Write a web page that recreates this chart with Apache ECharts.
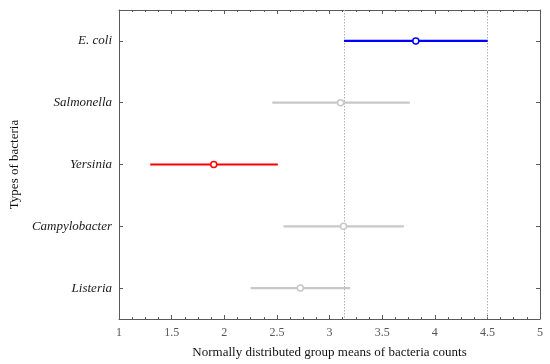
<!DOCTYPE html>
<html>
<head>
<meta charset="utf-8">
<script src="https://cdn.jsdelivr.net/npm/echarts@6/dist/echarts.min.js"></script>
<style>html,body{margin:0;padding:0;background:#fff}#c{width:550px;height:364px}</style>
</head>
<body>
<div id="c"></div>
<script>
var categories = ['E. coli', 'Salmonella', 'Yersinia', 'Campylobacter', 'Listeria'];
var lowBound = [3.137, 2.456, 1.296, 2.562, 2.250];
var groupMean = [3.820, 3.105, 1.900, 3.133, 2.723];
var highBound = [4.503, 3.763, 2.509, 3.707, 3.196];
var colors = ['#0000ff', '#c8c8c8', '#ff0000', '#c8c8c8', '#c8c8c8'];
var xTicks = ['1', '1.5', '2', '2.5', '3', '3.5', '4', '4.5', '5'];

var chart = echarts.init(document.getElementById('c'), null, {renderer: 'canvas'});
var font = '"Liberation Serif", "Times New Roman", serif';
var axisColor = '#5a5a5a';

var series = [];
categories.forEach(function (cat, i) {
  var s = {
    type: 'line',
    xAxisIndex: 0, yAxisIndex: 0,
    data: [[lowBound[i], cat], [highBound[i], cat]],
    symbol: 'none',
    lineStyle: {color: colors[i], width: 2.2},
    silent: true,
    z: 3
  };
  if (i === 0) {
    s.markLine = {
      silent: true,
      symbol: ['none', 'none'],
      label: {show: false},
      lineStyle: {color: '#b0b0b0', type: [1.5, 1.5], width: 1},
      data: [{xAxis: lowBound[i]}, {xAxis: highBound[i]}],
      z: 1
    };
  }
  series.push(s);
  series.push({
    type: 'scatter',
    xAxisIndex: 0, yAxisIndex: 0,
    data: [[groupMean[i], cat]],
    symbol: 'circle',
    symbolSize: 6,
    itemStyle: {color: '#ffffff', borderColor: colors[i], borderWidth: 1.5, opacity: 1},
    silent: true,
    z: 4
  });
});

chart.setOption({
  animation: false,
  grid: {left: 117, right: 10, top: 10, bottom: 43, containLabel: false},
  xAxis: [{
    type: 'value', min: 1, max: 5, interval: 0.5, position: 'bottom',
    name: 'Normally distributed group means of bacteria counts',
    nameLocation: 'middle', nameGap: 27,
    nameTextStyle: {fontFamily: font, fontSize: 13, color: '#111'},
    axisLine: {show: true, lineStyle: {color: axisColor, width: 1}},
    axisTick: {show: true, inside: true, length: 4, lineStyle: {color: axisColor}},
    minorTick: {show: true, splitNumber: 4, length: 2, lineStyle: {color: axisColor}},
    axisLabel: {fontFamily: font, fontSize: 12, color: '#555', margin: 8,
      formatter: function (v) { var idx = Math.round((v - 1) / 0.5); return xTicks[idx] || ''; }},
    splitLine: {show: false}
  }, {
    type: 'value', min: 1, max: 5, interval: 0.5, position: 'top',
    axisLine: {show: true, lineStyle: {color: axisColor, width: 1}},
    axisTick: {show: true, inside: true, length: 4, lineStyle: {color: axisColor}},
    minorTick: {show: true, splitNumber: 4, length: 2, lineStyle: {color: axisColor}},
    axisLabel: {show: false},
    splitLine: {show: false}
  }],
  yAxis: [{
    type: 'category', data: categories, inverse: true, position: 'left',
    name: 'Types of bacteria', nameLocation: 'middle', nameGap: 98, nameRotate: 90,
    nameTextStyle: {fontFamily: font, fontSize: 13, color: '#111'},
    axisLine: {show: true, lineStyle: {color: axisColor, width: 1}},
    axisTick: {show: true, inside: true, length: 4, alignWithLabel: true, lineStyle: {color: axisColor}},
    axisLabel: {fontFamily: font, fontSize: 13, fontStyle: 'italic', color: '#1a1a1a', margin: 7},
    splitLine: {show: false}
  }, {
    type: 'category', data: categories, inverse: true, position: 'right',
    axisLine: {show: true, lineStyle: {color: axisColor, width: 1}},
    axisTick: {show: true, inside: true, length: 4, alignWithLabel: true, lineStyle: {color: axisColor}},
    axisLabel: {show: false},
    splitLine: {show: false}
  }],
  series: series
});
</script>
</body>
</html>
